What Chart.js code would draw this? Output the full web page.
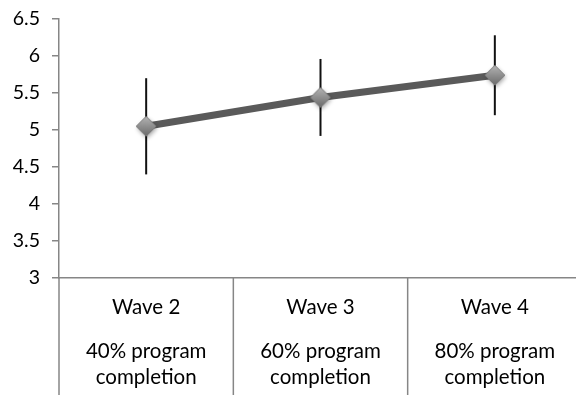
<!DOCTYPE html>
<html><head><meta charset="utf-8">
<script src="https://cdn.jsdelivr.net/npm/chart.js@4/dist/chart.umd.min.js"></script>
<style>
html,body{margin:0;padding:0;background:#fff;overflow:hidden;}
#wrap{width:582px;height:395px;position:relative;}
</style></head><body>
<div id="wrap"><canvas id="c" width="582" height="395"></canvas></div>
<script>
// Wave categories and the program-completion caption under each
const waves = ["Wave 2", "Wave 3", "Wave 4"];
const completion = [["40% program", "completion"], ["60% program", "completion"], ["80% program", "completion"]];
// Mean score per wave and the half-length of its error bar
const means = [5.05, 5.44, 5.74];
const errMargin = [0.65, 0.52, 0.54];
// Value axis range
const yMin = 3, yMax = 6.5, yStep = 0.5;

const FONT = "Lato, 'Liberation Sans', sans-serif";
const AXIS = "#868686";
const FS = 20.5;

// Shaded diamond marker with a soft drop shadow
function makeDiamond(r) {
  const s = r * 2 + 10;
  const cv = document.createElement("canvas");
  cv.width = s; cv.height = s;
  const g = cv.getContext("2d");
  const c = s / 2;
  g.shadowColor = "rgba(0,0,0,0.35)";
  g.shadowBlur = 4;
  g.shadowOffsetX = 1;
  g.shadowOffsetY = 2;
  const grad = g.createLinearGradient(0, c - r, 0, c + r);
  grad.addColorStop(0, "#b4b4b4");
  grad.addColorStop(1, "#6a6a6a");
  g.beginPath();
  g.moveTo(c, c - r); g.lineTo(c + r, c); g.lineTo(c, c + r); g.lineTo(c - r, c); g.closePath();
  g.fillStyle = grad;
  g.fill();
  g.shadowColor = "transparent";
  g.lineWidth = 1;
  g.strokeStyle = "#7a7a7a";
  g.stroke();
  return cv;
}
const diamond = makeDiamond(10);

// Vertical error bars, drawn beneath the line and markers
const errorBars = {
  id: "errorBars",
  beforeDatasetsDraw(chart) {
    const xs = chart.scales.x, ys = chart.scales.y, ctx = chart.ctx;
    ctx.save();
    ctx.strokeStyle = "#111";
    ctx.lineWidth = 2;
    means.forEach((m, i) => {
      const x = xs.getPixelForValue(i);
      ctx.beginPath();
      ctx.moveTo(x, ys.getPixelForValue(m + errMargin[i]));
      ctx.lineTo(x, ys.getPixelForValue(m - errMargin[i]));
      ctx.stroke();
    });
    ctx.restore();
  }
};

// Category boundary lines running down through the label area
const dividers = {
  id: "dividers",
  afterDraw(chart) {
    const xs = chart.scales.x, ctx = chart.ctx;
    ctx.save();
    ctx.strokeStyle = AXIS;
    ctx.lineWidth = 1.5;
    for (let i = 0; i <= waves.length; i++) {
      const x = xs.getPixelForValue(i - 0.5);
      ctx.beginPath();
      ctx.moveTo(x, xs.top);
      ctx.lineTo(x, chart.height);
      ctx.stroke();
    }
    ctx.restore();
  }
};

function noSidePad(s) { s.paddingLeft = 0; s.paddingRight = 0; }

new Chart(document.getElementById("c"), {
  type: "line",
  data: {
    labels: waves,
    datasets: [{
      data: means,
      borderColor: "#5a5a5a",
      borderWidth: 7,
      pointStyle: diamond,
      pointRadius: 10,
      pointHoverRadius: 10,
      tension: 0,
      xAxisID: "x",
      yAxisID: "y"
    }]
  },
  options: {
    responsive: false,
    animation: false,
    devicePixelRatio: 1,
    layout: { autoPadding: false, padding: { top: 19, right: 0, bottom: 0, left: 0 } },
    plugins: { legend: { display: false }, tooltip: { enabled: false } },
    scales: {
      y: {
        min: yMin, max: yMax,
        position: "left",
        ticks: { stepSize: yStep, padding: 12, color: "#000", font: { family: FONT, size: 19.5 }, callback: v => String(v) },
        grid: { drawOnChartArea: false, tickLength: 7, color: AXIS, lineWidth: 1.5 },
        border: { color: AXIS, width: 1.5 },
        afterFit(s) { s.width = 59; s.paddingTop = 0; s.paddingBottom = 0; }
      },
      x: {
        type: "category",
        position: "bottom",
        offset: true,
        labels: waves,
        ticks: { padding: 17, color: "#000", maxRotation: 0, autoSkip: false, font: { family: FONT, size: FS, lineHeight: 1.2 } },
        grid: { display: false, drawTicks: false },
        border: { color: AXIS, width: 1.5 },
        afterFit(s) { s.height = 40; noSidePad(s); }
      },
      x2: {
        type: "category",
        position: "bottom",
        offset: true,
        labels: completion,
        ticks: { padding: 20, color: "#000", maxRotation: 0, autoSkip: false, font: { family: FONT, size: FS, lineHeight: 1.27 } },
        grid: { display: false, drawTicks: false },
        border: { display: false },
        afterFit(s) { s.height = 77; noSidePad(s); }
      }
    }
  },
  plugins: [errorBars, dividers]
});
</script>
</body></html>
